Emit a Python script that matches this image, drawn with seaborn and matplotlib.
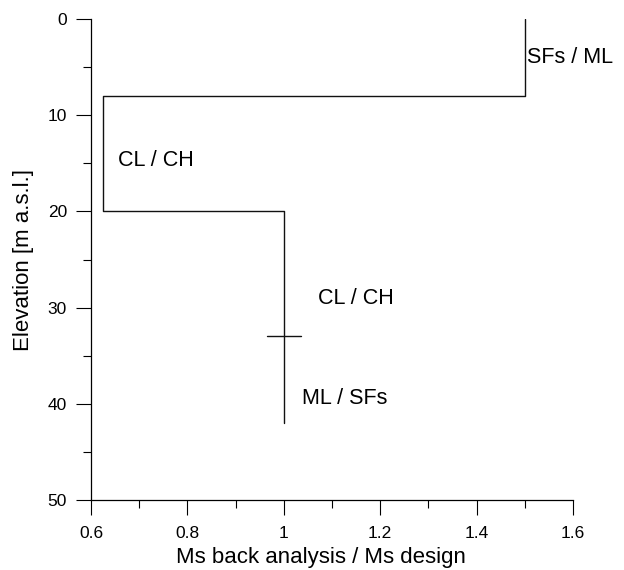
import numpy as np
import pandas as pd
import matplotlib
matplotlib.use("Agg")
import matplotlib.pyplot as plt
from matplotlib.ticker import MultipleLocator, FuncFormatter
import seaborn as sns

# step profile: Ms ratio vs elevation
ratio = [1.5, 1.5, 0.625, 0.625, 1.0, 1.0]
elevation = [0, 8, 8, 20, 20, 42]

# small cross marker on the lower branch
cross_x = [0.965, 1.035]
cross_y = [33, 33]

# soil labels (x, baseline elevation, text)
label_x = [1.505, 0.655, 1.07, 1.037]
label_y = [4.6, 15.3, 29.65, 40.0]
label_txt = ["SFs / ML", "CL / CH", "CL / CH", "ML / SFs"]

sns.set_theme(style="ticks")
plt.rcParams["font.family"] = ["Liberation Sans", "DejaVu Sans"]

fig = plt.figure(figsize=(6.24, 5.70), dpi=100)
ax = fig.add_axes([91 / 624, 70 / 570, 482 / 624, 481 / 570])

prof = pd.DataFrame({"ratio": ratio, "elev": elevation})
sns.lineplot(data=prof, x="ratio", y="elev", sort=False, estimator=None,
             color="#111111", linewidth=1.0, ax=ax)
cr = pd.DataFrame({"ratio": cross_x, "elev": cross_y})
sns.lineplot(data=cr, x="ratio", y="elev", sort=False, estimator=None,
             color="#111111", linewidth=1.0, ax=ax)

for x, y, t in zip(label_x, label_y, label_txt):
    ax.text(x, y, t, fontsize=15.5, ha="left", va="baseline", color="black")

ax.set_xlim(0.6, 1.6)
ax.set_ylim(50, 0)
ax.xaxis.set_major_locator(MultipleLocator(0.2))
ax.xaxis.set_minor_locator(MultipleLocator(0.1))
ax.yaxis.set_major_locator(MultipleLocator(10))
ax.yaxis.set_minor_locator(MultipleLocator(5))
ax.xaxis.set_major_formatter(FuncFormatter(lambda v, p: f"{v:g}"))

ax.tick_params(which="major", direction="out", length=10.8, width=0.8,
               color="black", labelsize=12.5, labelcolor="black")
ax.tick_params(axis="x", which="major", pad=8)
ax.tick_params(axis="y", which="major", pad=6.5)
ax.tick_params(which="minor", direction="out", length=5.8, width=0.8, color="black")

for side in ["top", "right"]:
    ax.spines[side].set_visible(False)
for side in ["left", "bottom"]:
    ax.spines[side].set_color("black")
    ax.spines[side].set_linewidth(0.9)

ax.set_xlabel("Ms back analysis / Ms design", fontsize=16, color="black")
ax.set_ylabel("Elevation [m a.s.l.]", fontsize=16, color="black", labelpad=10)
ax.xaxis.set_label_coords(0.477, -0.098)
ax.grid(False)

fig.savefig("out.png", dpi=100)
